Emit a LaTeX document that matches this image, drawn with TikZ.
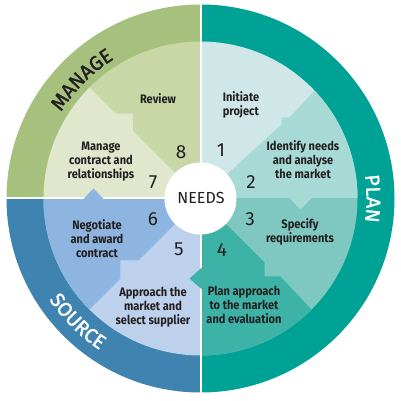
\documentclass[tikz,border=0pt]{standalone}
\usepackage{fontspec}
\setmainfont{Fira Sans}
\newfontfamily\labelfont{Fira Sans}[FakeStretch=0.9]
\newfontfamily\ringfam{Fira Sans}[FakeBold=1.5]
\usetikzlibrary{decorations.text}
\definecolor{txt}{HTML}{231F20}
\definecolor{manring}{HTML}{A6C17D}
\definecolor{planring}{HTML}{00A295}
\definecolor{souring}{HTML}{3F83B1}
\definecolor{segA}{HTML}{CFE7E6}
\definecolor{segB}{HTML}{A8DAD5}
\definecolor{segC}{HTML}{7EC8C1}
\definecolor{segD}{HTML}{3DB3A7}
\definecolor{segE}{HTML}{BDD1EC}
\definecolor{segF}{HTML}{8DB5DF}
\definecolor{segG}{HTML}{E1E7CD}
\definecolor{segH}{HTML}{C9D6A6}
\newcommand\ringfont{\ringfam\fontsize{20}{20}\selectfont}
\begin{document}
\begin{tikzpicture}[x=1pt,y=1pt, line join=round,
	lab/.style={font=\labelfont\bfseries\fontsize{12.3}{14}\selectfont, text=txt, align=center, inner sep=0pt},
	num/.style={font=\fontsize{19}{19}\selectfont, text=txt, inner sep=0pt},
	ringtext/.style={decorate, decoration={text along path, text align=center, text color=#1}}]
	\def\R{194}
	\def\r{157}
	\useasboundingbox (-200.5,-202.5) rectangle (199.5,198.5);
	%Vẽ vòng ngoài
	\fill[planring] (0,0)--(90:\R) arc(90:-90:\R)--cycle;
	\fill[manring] (0,0)--(90:\R) arc(90:180:\R)--cycle;
	\fill[souring] (0,0)--(180:\R) arc(180:270:\R)--cycle;
	
	%Vẽ các phần bên trong
	\fill[segA] (0,0)--(90:\r) arc(90:0:\r)--cycle;
	\fill[segB] (0,0)--(81,74)--(81,81)--(89,81)--(43.4:\r) arc(43.4:0:\r)--cycle;
	\fill[segC] (0,0)--(0:\r) arc(0:-90:\r)--cycle;
	\fill[segD] (0,0)--(64,-64)--(64,-78)--(80,-78)--(-45:\r) arc(-45:-90:\r)--cycle;
	\fill[segE] (0,0)--(-90:\r) arc(-90:-180:\r)--cycle;
	\fill[segF] (0,0)--(-62,-62)--(-80,-62)--(-80,-80)--(225:\r) arc(225:180:\r)--cycle;
	\fill[segH] (0,0)--(-67,67)--(-67,85)--(-85,85)--(135:\r) arc(135:90:\r)--cycle;
	\fill[segG] (0,0)--(180:\r) arc(180:135:\r)--(-85,85)--(-67,85)--(-67,67)--cycle;
	
	%Đường trắng
	\draw[white, line width=2] (0,-\R)--(0,\R) (-\R,0)--(0,0);
	
	%Mũi tên
	\fill[segB] (89,0.5)--(100,-11)--(111,0.5)--cycle;
	\fill[segD] (1.5,-69)--(-11,-80)--(1.5,-91)--cycle;
	\fill[segF] (-118,-1.5)--(-107,10)--(-96,-1.5)--cycle;
	
	%Chữ trên vòng
	\path[ringtext=txt, decoration={text={|\ringfont|MANAGE}}] (180:164) arc(180:90:164);
	\path[ringtext=white, decoration={text={|\ringfont|PLAN}}] (90:166) arc(90:-90:166);
	\path[ringtext=white, decoration={text={|\ringfont|SOURCE}}] (180:182) arc(180:270:182);
	
	%Tâm
	\fill[white] (0,0) circle (36);
	\node[font=\fontsize{16}{16}\selectfont, text=txt, inner sep=0pt] (needs) at (0.5,0.5) {NEEDS};
	
	\node[num] (n1) at (20.5,48.5) {1};
	\node[num] (n2) at (50.5,16.5) {2};
	\node[num] (n3) at (49.5,-20.5) {3};
	\node[num] (n4) at (21.5,-51.5) {4};
	\node[num] (n5) at (-21.5,-50.5) {5};
	\node[num] (n6) at (-47.5,-20.5) {6};
	\node[num] (n7) at (-47.5,16.5) {7};
	\node[num] (n8) at (-19.5,46.5) {8};
	
	\node[lab, align=left] (initiate) at (40.5,93.5) {Initiate\\project};
	\node[lab] (identify) at (102.5,38.5) {Identify needs\\and analyse\\the market};
	\node[lab] (specify) at (99.5,-33.5) {Specify\\requirements};
	\node[lab] (planapp) at (43.5,-106.5) {Plan approach\\to the market\\and evaluation};
	\node[lab] (approach) at (-47.5,-108.5) {Approach the\\market and\\select supplier};
	\node[lab] (negotiate) at (-103.5,-40.5) {Negotiate\\and award\\contract};
	\node[lab] (managec) at (-99.5,36.5) {Manage\\contract and\\relationships};
	\node[lab] (review) at (-42.5,99.5) {Review};
\end{tikzpicture}
\end{document}
